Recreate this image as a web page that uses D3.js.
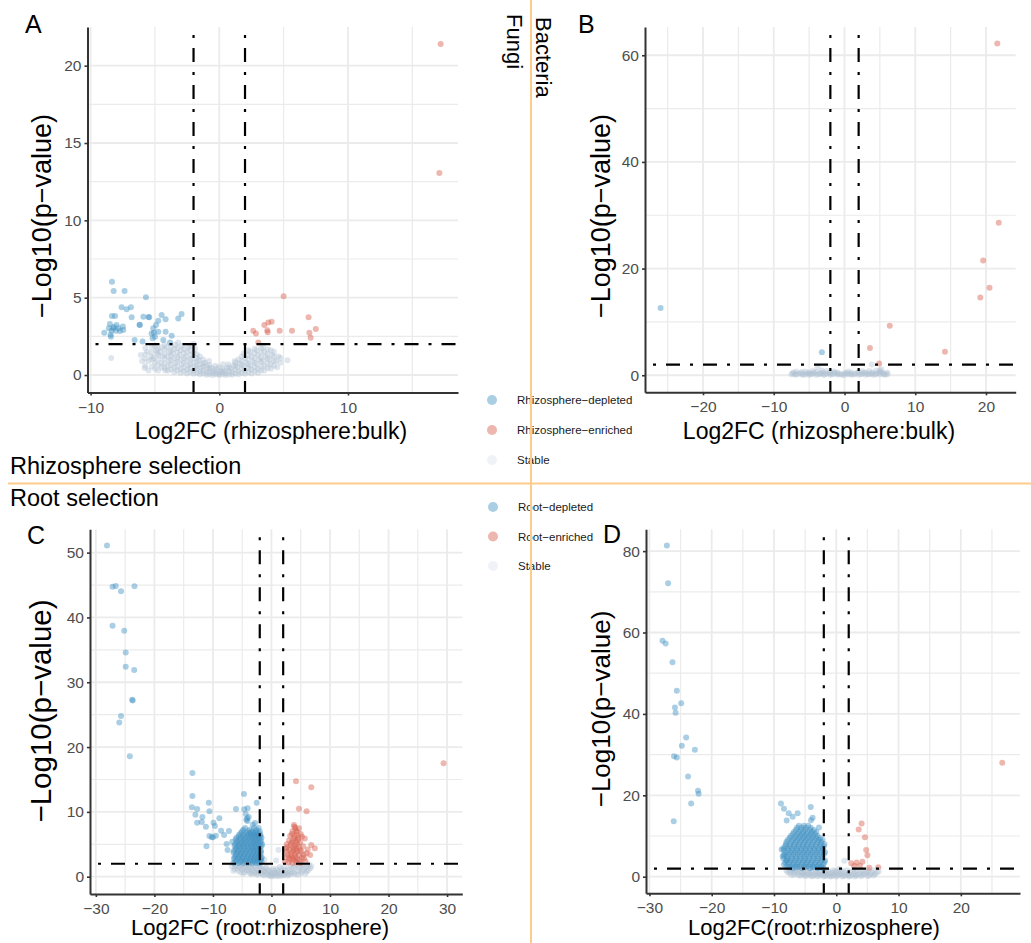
<!DOCTYPE html>
<html><head><meta charset="utf-8">
<script src="https://cdn.jsdelivr.net/npm/d3@7"></script>
<style>body{margin:0;background:#fff}svg{display:block}</style>
</head><body>
<svg id="chart" width="1031" height="943"></svg>
<script>
// ---------------- DATA ----------------
// Panel A (Fungi, rhizosphere:bulk)
const aDepleted = [[-8.34,6.03],[-8.21,5.43],[-7.36,5.43],[-5.7,5.02],[-7.59,4.38],[-7.2,4.25],[-6.87,4.38],[-8.1,3.81],[-8.34,3.81],[-6.81,3.73],[-5.44,3.73],[-4.48,3.88],[-4.17,3.6],[-4.74,3.51],[-2.93,3.94],[-3.19,3.66],[-6.17,3.23],[-8.58,3.02],[-8.24,3.02],[-7.85,3.02],[-7.49,3.13],[-8.37,2.87],[-8.03,2.87],[-7.72,2.84],[-8.94,2.74],[-8.42,2.48],[-6.58,2.26],[-5.96,2.16],[-5.13,3.02],[-5.08,2.74],[-4.74,2.8],[-4.92,3.23],[-4.17,2.8],[-3.7,2.54],[-5.18,2.37],[-4.35,2.26],[-3.83,2.11],[-7.46,2.91],[-7.98,3.23],[-5.9,3.77],[-5.26,2.69],[-5.0,2.48],[-8.5,3.3],[-8.2,3.1],[-6.2,3.25],[-5.5,3.75],[-8.45,2.6]];
const aEnriched = [[17.2,21.4],[17.1,13.06],[5.0,5.1],[6.94,3.73],[7.5,2.97],[7.0,2.74],[7.1,2.41],[5.65,2.87],[4.69,2.87],[4.07,3.45],[3.81,3.4],[3.5,3.23],[3.76,2.76],[3.73,2.9],[2.64,2.87],[2.85,2.69],[3.03,2.11]];
const aStable = [[-8.4,1.1],[-6.0,0.9],[-6.1,1.3],[-5.8,0.45],[-5.5,0.3],[-5.5,0.9],[-5.6,1.5],[-5.3,1.2],[-5.0,0.4],[-5.0,0.8],[-5.1,1.1],[-4.9,1.6],[-5.0,1.9],[-4.8,1.4],[-4.5,0.5],[-4.5,0.8],[-4.4,1.2],[-4.6,1.5],[-4.5,1.8],[-4.2,0.3],[-4.0,0.3],[-4.0,0.6],[-3.9,0.9],[-4.0,1.2],[-3.9,1.5],[-4.1,1.8],[-3.5,0.2],[-3.5,0.5],[-3.4,0.8],[-3.5,1.1],[-3.6,1.4],[-3.5,1.7],[-3.4,1.95],[-3.0,0.15],[-3.0,0.4],[-2.9,0.7],[-3.0,1.0],[-3.1,1.3],[-3.0,1.6],[-2.9,1.9],[-2.5,0.1],[-2.5,0.35],[-2.4,0.6],[-2.5,0.9],[-2.6,1.2],[-2.5,1.5],[-2.4,1.8],[-2.0,0.08],[-2.0,0.3],[-1.9,0.5],[-2.0,0.8],[-2.1,1.1],[-2.0,1.4],[-1.9,1.7],[-2.0,2.0],[-1.5,0.05],[-1.5,0.25],[-1.4,0.45],[-1.5,0.7],[-1.6,0.95],[-1.5,1.2],[-1.0,0.02],[-1.0,0.2],[-0.9,0.4],[-1.0,0.6],[-1.1,0.8],[-0.8,0.9],[-0.5,0.0],[-0.5,0.15],[-0.4,0.3],[-0.6,0.45],[-0.3,0.6],[0.0,0.0],[0.0,0.1],[0.1,0.25],[0.0,0.5],[0.3,0.7],[0.5,0.0],[0.5,0.12],[0.4,0.3],[0.6,0.45],[0.7,0.7],[1.0,0.02],[1.0,0.2],[0.9,0.4],[1.1,0.6],[1.2,0.9],[1.5,0.05],[1.5,0.25],[1.4,0.5],[1.6,0.75],[1.5,1.0],[2.0,0.08],[2.0,0.3],[1.9,0.55],[2.1,0.8],[2.0,1.1],[1.9,1.4],[2.5,0.1],[2.5,0.35],[2.4,0.6],[2.6,0.9],[2.5,1.2],[2.4,1.5],[3.0,0.15],[3.0,0.4],[2.9,0.7],[3.1,1.0],[3.0,1.3],[2.9,1.6],[3.5,0.3],[3.5,0.6],[3.4,0.9],[3.6,1.2],[3.5,1.5],[3.4,1.8],[4.0,0.4],[4.0,0.7],[3.9,1.0],[4.1,1.3],[4.0,1.6],[4.5,0.5],[4.4,0.9],[4.6,1.2],[5.3,0.95],[-3.2,2.1],
[-5.75,0.6],[-5.75,1.05],[-5.75,1.35],[-5.75,1.75],[-5.25,0.55],[-5.25,1.0],[-5.25,1.45],[-5.25,1.8],[-4.75,0.3],[-4.75,0.65],[-4.75,1.0],[-4.75,1.3],[-4.75,1.7],[-4.25,0.45],[-4.25,0.75],[-4.25,1.05],[-4.25,1.35],[-4.25,1.65],[-4.25,1.95],[-3.75,0.35],[-3.75,0.65],[-3.75,0.95],[-3.75,1.25],[-3.75,1.55],[-3.75,1.85],[-3.25,0.3],[-3.25,0.55],[-3.25,0.85],[-3.25,1.15],[-3.25,1.45],[-3.25,1.75],[-2.75,0.25],[-2.75,0.5],[-2.75,0.8],[-2.75,1.1],[-2.75,1.4],[-2.75,1.7],[-2.25,0.2],[-2.25,0.45],[-2.25,0.7],[-2.25,1.0],[-2.25,1.3],[-2.25,1.6],[-2.25,1.9],[-1.75,0.15],[-1.75,0.4],[-1.75,0.6],[-1.75,0.85],[-1.75,1.1],[-1.75,1.35],[-1.25,0.1],[-1.25,0.3],[-1.25,0.55],[-1.25,0.75],[-1.25,1.0],[-0.75,0.05],[-0.75,0.25],[-0.75,0.45],[-0.75,0.65],[-0.25,0.05],[-0.25,0.2],[-0.25,0.4],[0.25,0.05],[0.25,0.2],[0.25,0.4],[0.75,0.05],[0.75,0.25],[0.75,0.5],[1.25,0.1],[1.25,0.35],[1.25,0.6],[1.25,0.8],[1.75,0.15],[1.75,0.4],[1.75,0.65],[1.75,0.9],[1.75,1.2],[2.25,0.2],[2.25,0.45],[2.25,0.7],[2.25,1.0],[2.25,1.3],[2.25,1.6],[2.75,0.25],[2.75,0.5],[2.75,0.8],[2.75,1.1],[2.75,1.4],[2.75,1.7],[3.25,0.3],[3.25,0.55],[3.25,0.85],[3.25,1.15],[3.25,1.45],[3.25,1.75],[3.75,0.45],[3.75,0.75],[3.75,1.05],[3.75,1.35],[3.75,1.65],[4.25,0.6],[4.25,0.9],[4.25,1.2],[4.25,1.5],[4.75,0.8],[4.75,1.1]];

// Panel B (Bacteria, rhizosphere:bulk)
const bDepleted = [[-26.0,12.6],[-3.2,4.3]];
const bEnriched = [[21.6,62.2],[21.8,28.6],[19.6,21.5],[20.5,16.4],[19.2,14.6],[6.4,9.3],[3.6,5.1],[14.2,4.4],[4.9,2.2]];
const bStable = [[-7.5,0.2],[-7.2,0.5],[-7.0,0.1],[-6.5,0.3],[-6.0,0.15],[-6.0,0.6],[-5.5,0.2],[-5.0,0.1],[-5.0,0.5],[-4.5,0.3],[-4.0,0.1],[-4.0,0.6],[-3.8,1.5],[-3.5,0.3],[-3.2,0.9],[-3.0,0.1],[-3.0,0.5],[-2.5,0.3],[-2.5,0.8],[-2.0,0.1],[-2.0,0.5],[-1.5,0.3],[-1.0,0.1],[-1.0,0.5],[-0.5,0.2],[0.0,0.05],[0.0,0.4],[0.5,0.2],[1.0,0.1],[1.0,0.5],[1.5,0.3],[2.0,0.1],[2.0,0.6],[2.5,0.3],[3.0,0.1],[3.0,0.5],[3.5,0.8],[3.5,0.25],[3.85,2.0],[4.0,0.1],[4.0,0.5],[4.5,0.3],[4.5,0.9],[5.0,0.15],[5.0,0.6],[5.5,0.3],[5.8,0.1],[6.0,0.5],[5.2,1.1],
[-7.3,0.35],[-6.8,0.2],[-6.2,0.4],[-5.8,0.1],[-5.2,0.35],[-4.8,0.2],[-4.3,0.45],[-3.7,0.2],[-3.3,0.4],[-2.8,0.15],[-2.2,0.35],[-1.8,0.2],[-1.3,0.45],[-0.8,0.3],[-0.3,0.1],[0.3,0.35],[0.8,0.3],[1.3,0.15],[1.8,0.4],[2.3,0.2],[2.8,0.45],[3.3,0.2],[3.8,0.35],[4.3,0.15],[4.8,0.4],[5.3,0.5],[5.6,0.2],[6.1,0.25],[-6.8,0.7],[-5.5,0.7],[-4.5,0.8],[-1.5,0.7],[0.5,0.7],[2.5,0.75],[5.0,0.9]];

// Panel C (Fungi, root:rhizosphere)
const cDepleted = [[-28.1,51.1],[-27.15,44.75],[-26.6,44.86],[-25.7,44.03],[-23.4,44.8],[-27.15,38.7],[-25.15,37.96],[-24.9,34.6],[-24.9,32.4],[-23.45,31.9],[-23.8,27.3],[-23.7,27.2],[-25.7,24.8],[-26.0,23.8],[-24.2,18.6],
[-13.5,16.0],[-13.5,12.45],[-13.6,10.7],[-12.7,10.45],[-13.0,9.57],[-10.7,11.4],[-10.6,10.1],[-11.8,9.2],[-12.7,8.33],[-11.9,8.44],[-11.2,7.7],[-9.9,8.33],[-9.66,7.82],[-8.9,9.0],[-10.6,6.28],[-10.2,6.08],[-10.0,6.1],[-9.5,6.33],[-11.1,4.7],[-8.6,7.1],[-8.1,6.44],[-7.26,7.05],[-6.7,5.4],[-7.66,5.05],[-7.5,4.12],[-6.07,10.45],[-4.65,10.4],[-4.07,10.55],[-4.7,12.76],[-2.53,11.4],[-4.4,9.68],[-4.14,9.0],[-3.9,9.2],[-4.3,8.8],[-3.2,8.0],[-2.8,8.3],[-4.1,8.6],
[-4.5,7.5],[-3.0,7.5],[-2.2,7.5],
[-5.0,7.0],[-4.0,7.0],[-3.3,7.0],[-2.6,7.0],[-2.0,7.0],
[-5.5,6.5],[-4.7,6.5],[-4.0,6.5],[-3.5,6.5],[-3.0,6.5],[-2.5,6.5],[-1.9,6.5],
[-6.0,6.0],[-5.2,6.0],[-4.5,6.0],[-3.8,6.0],[-3.2,6.0],[-2.7,6.0],[-2.2,6.0],[-1.7,6.0],
[-5.8,5.5],[-5.0,5.5],[-4.3,5.5],[-3.6,5.5],[-3.0,5.5],[-2.4,5.5],[-1.8,5.5],
[-6.2,5.0],[-5.5,5.0],[-4.8,5.0],[-4.1,5.0],[-3.4,5.0],[-2.8,5.0],[-2.2,5.0],[-1.6,5.0],
[-6.0,4.5],[-5.3,4.5],[-4.6,4.5],[-3.9,4.5],[-3.2,4.5],[-2.6,4.5],[-2.0,4.5],
[-6.4,4.0],[-5.7,4.0],[-5.0,4.0],[-4.3,4.0],[-3.6,4.0],[-3.0,4.0],[-2.4,4.0],[-1.8,4.0],
[-6.0,3.5],[-5.3,3.5],[-4.6,3.5],[-3.9,3.5],[-3.2,3.5],[-2.6,3.5],[-2.0,3.5],
[-6.3,3.0],[-5.6,3.0],[-4.9,3.0],[-4.2,3.0],[-3.5,3.0],[-2.9,3.0],[-2.3,3.0],[-1.7,3.0],
[-6.0,2.5],[-5.2,2.5],[-4.5,2.5],[-3.8,2.5],[-3.1,2.5],[-2.5,2.5],[-1.9,2.5],
[-6.5,2.1],[-5.6,2.1],[-4.8,2.1],[-4.0,2.1],[-3.3,2.1],[-2.6,2.1],[-2.0,2.1],
[-4.8,7.25],[-3.7,7.25],[-2.6,7.25],
[-5.2,6.75],[-4.3,6.75],[-3.7,6.75],[-3.2,6.75],[-2.8,6.75],[-2.2,6.75],
[-5.6,6.25],[-4.9,6.25],[-4.2,6.25],[-3.5,6.25],[-2.9,6.25],[-2.4,6.25],[-1.9,6.25],
[-6.1,5.75],[-5.4,5.75],[-4.7,5.75],[-4.0,5.75],[-3.3,5.75],[-2.7,5.75],[-2.1,5.75],
[-5.9,5.25],[-5.2,5.25],[-4.5,5.25],[-3.8,5.25],[-3.1,5.25],[-2.5,5.25],[-1.9,5.25],
[-6.3,4.75],[-5.6,4.75],[-4.9,4.75],[-4.2,4.75],[-3.5,4.75],[-2.9,4.75],[-2.3,4.75],[-1.7,4.75],
[-6.1,4.25],[-5.4,4.25],[-4.7,4.25],[-4.0,4.25],[-3.3,4.25],[-2.7,4.25],[-2.1,4.25],
[-6.5,3.75],[-5.8,3.75],[-5.1,3.75],[-4.4,3.75],[-3.7,3.75],[-3.0,3.75],[-2.4,3.75],[-1.8,3.75],
[-6.1,3.25],[-5.4,3.25],[-4.7,3.25],[-4.0,3.25],[-3.3,3.25],[-2.7,3.25],[-2.1,3.25],
[-6.4,2.75],[-5.7,2.75],[-5.0,2.75],[-4.3,2.75],[-3.6,2.75],[-3.0,2.75],[-2.4,2.75],[-1.8,2.75],
[-6.2,2.3],[-5.3,2.3],[-4.4,2.3],[-3.6,2.3],[-2.9,2.3],[-2.3,2.3],[-1.7,2.3]];
const cEnriched = [[29.4,17.5],[4.19,14.72],[6.8,13.8],[4.7,10.5],[6.0,10.1],[3.85,7.97],[4.7,7.46],[4.1,7.5],[3.6,7.0],[4.4,6.9],[5.2,6.17],[5.7,5.9],[3.2,6.3],[3.9,6.2],[4.6,6.0],[3.0,5.6],[3.6,5.5],[4.2,5.4],[4.9,5.3],[2.6,5.0],[3.3,4.9],[4.0,4.8],[4.7,4.6],[5.4,4.7],[6.8,4.9],[7.4,4.37],[2.5,4.3],[3.1,4.2],[3.8,4.1],[4.4,4.0],[5.1,3.9],[6.2,4.2],[2.6,3.86],[3.3,3.5],[4.0,3.4],[4.7,3.3],[5.5,3.4],[6.0,3.6],[6.6,3.34],[2.4,3.0],[3.0,2.9],[3.7,2.8],[4.4,2.7],[5.56,2.83],[2.3,2.3],[2.9,2.2],[3.6,2.1],[4.3,2.2],[5.0,2.1],[5.8,2.4],
[3.5,6.6],[4.3,6.4],[3.9,5.8],[4.5,5.7],[3.4,5.2],[4.4,5.0],[3.7,4.5],[4.2,4.4],[3.5,3.9],[4.2,3.7],[3.4,3.1],[4.1,3.0],[3.2,2.6],[4.0,2.5],[4.8,2.5],[5.2,3.0],[4.9,4.1],[2.8,3.4],[2.7,4.6],[5.0,6.6],[4.2,7.1],[3.9,7.7]];
const cStable = [[-6.8,1.6],[-6.3,1.2],[-6.0,1.8],[-5.7,0.9],[-5.5,1.5],[-5.0,1.1],[-5.0,1.8],[-4.6,0.7],[-4.5,1.4],[-4.0,1.0],[-4.0,1.8],[-3.6,0.5],[-3.5,1.3],[-3.0,0.8],[-3.0,1.7],[-2.6,0.4],[-2.5,1.2],[-2.2,1.9],[-2.0,0.7],[-1.8,1.4],[-1.5,0.3],[-1.4,1.0],[-1.2,2.6],[-1.0,0.6],[-0.8,1.5],[-0.5,0.2],[-0.4,0.9],[0.0,0.05],[0.0,0.5],[0.2,1.2],[0.5,0.1],[0.6,0.6],[1.0,0.2],[1.0,0.9],[1.2,4.1],[1.4,1.5],[1.5,0.4],[1.8,0.9],[2.0,0.2],[2.2,1.5],[2.5,0.5],[2.8,1.1],[3.0,0.3],[3.2,1.7],[3.5,0.7],[3.8,1.3],[4.0,0.4],[4.3,1.8],[4.5,0.9],[5.0,0.5],[5.0,1.5],[5.5,1.1],[6.0,0.8],[6.0,1.7],[6.6,1.3],[-1.6,2.9],[0.8,2.5],
[-6.5,0.9],[-6.2,1.6],[-5.8,1.3],[-5.3,0.7],[-5.3,1.7],[-4.8,0.5],[-4.8,1.4],[-4.3,1.0],[-4.3,1.9],[-3.8,0.7],[-3.8,1.5],[-3.3,0.4],[-3.3,1.1],[-3.3,1.9],[-2.8,0.6],[-2.8,1.4],[-2.3,0.3],[-2.3,1.0],[-2.0,1.6],[-1.7,0.5],[-1.6,1.2],[-1.2,0.2],[-1.2,0.8],[-1.0,1.3],[-0.7,0.4],[-0.6,1.0],[-0.2,0.2],[-0.2,0.7],[0.3,0.3],[0.4,0.9],[0.8,0.4],[0.8,1.2],[1.2,0.1],[1.3,0.7],[1.7,0.2],[1.7,1.2],[2.2,0.4],[2.4,1.0],[2.7,0.2],[2.9,0.7],[3.3,0.4],[3.4,1.2],[3.9,0.6],[4.0,1.6],[4.5,0.3],[4.7,1.3],[5.2,0.8],[5.3,1.8],[5.8,0.5],[5.8,1.4],[6.3,1.0],[6.8,1.6],[6.4,1.9]];

// Panel D (Bacteria, root:rhizosphere)
const dDepleted = [[-27.2,81.4],[-27.0,72.1],[-27.9,58.0],[-27.4,57.3],[-26.3,52.7],[-25.6,45.7],[-24.9,42.6],[-25.9,41.6],[-25.8,40.3],[-24.1,34.2],[-24.8,32.2],[-22.7,31.2],[-26.05,29.6],[-25.6,29.3],[-23.8,24.6],[-22.2,21.1],[-22.1,20.4],[-23.3,18.0],[-26.1,13.6],
[-8.88,18.0],[-8.4,16.7],[-7.64,15.6],[-7.96,13.8],[-7.0,14.7],[-6.2,15.6],[-4.1,17.1],[-3.8,14.5],[-4.06,13.9],[-2.78,12.1],[-8.77,6.7],[-8.4,5.3],[-7.96,4.0],
[-6.0,12.5],[-5.2,12.5],[-4.5,12.5],
[-6.5,11.5],[-5.7,11.5],[-5.0,11.5],[-4.2,11.5],[-3.6,11.5],
[-7.0,10.5],[-6.2,10.5],[-5.5,10.5],[-4.8,10.5],[-4.1,10.5],[-3.4,10.5],
[-7.5,9.5],[-6.7,9.5],[-6.0,9.5],[-5.3,9.5],[-4.6,9.5],[-3.9,9.5],[-3.2,9.5],[-2.6,9.5],
[-8.0,8.5],[-7.2,8.5],[-6.5,8.5],[-5.8,8.5],[-5.1,8.5],[-4.4,8.5],[-3.7,8.5],[-3.0,8.5],[-2.4,8.5],
[-8.2,7.5],[-7.5,7.5],[-6.8,7.5],[-6.1,7.5],[-5.4,7.5],[-4.7,7.5],[-4.0,7.5],[-3.3,7.5],[-2.6,7.5],[-2.0,7.5],
[-8.4,6.5],[-7.7,6.5],[-7.0,6.5],[-6.3,6.5],[-5.6,6.5],[-4.9,6.5],[-4.2,6.5],[-3.5,6.5],[-2.8,6.5],[-2.1,6.5],
[-8.3,5.5],[-7.6,5.5],[-6.9,5.5],[-6.2,5.5],[-5.5,5.5],[-4.8,5.5],[-4.1,5.5],[-3.4,5.5],[-2.7,5.5],[-2.0,5.5],
[-8.5,4.5],[-7.8,4.5],[-7.1,4.5],[-6.4,4.5],[-5.7,4.5],[-5.0,4.5],[-4.3,4.5],[-3.6,4.5],[-2.9,4.5],[-2.2,4.5],
[-8.2,3.5],[-7.5,3.5],[-6.8,3.5],[-6.1,3.5],[-5.4,3.5],[-4.7,3.5],[-4.0,3.5],[-3.3,3.5],[-2.6,3.5],[-1.9,3.5],
[-8.0,2.5],[-7.3,2.5],[-6.6,2.5],[-5.9,2.5],[-5.2,2.5],[-4.5,2.5],[-3.8,2.5],[-3.1,2.5],[-2.4,2.5],
[-7.0,2.1],[-5.5,2.1],[-4.2,2.1],[-3.0,2.1],[-2.1,2.1],
[-6.3,12.0],[-5.6,12.0],[-4.9,12.0],[-4.1,12.0],
[-6.8,11.0],[-6.0,11.0],[-5.3,11.0],[-4.6,11.0],[-3.9,11.0],[-3.2,11.0],
[-7.3,10.0],[-6.5,10.0],[-5.8,10.0],[-5.1,10.0],[-4.4,10.0],[-3.7,10.0],[-3.0,10.0],
[-7.8,9.0],[-7.0,9.0],[-6.3,9.0],[-5.6,9.0],[-4.9,9.0],[-4.2,9.0],[-3.5,9.0],[-2.8,9.0],[-2.2,9.0],
[-8.1,8.0],[-7.4,8.0],[-6.7,8.0],[-6.0,8.0],[-5.3,8.0],[-4.6,8.0],[-3.9,8.0],[-3.2,8.0],[-2.5,8.0],[-1.9,8.0],
[-8.5,7.0],[-7.8,7.0],[-7.1,7.0],[-6.4,7.0],[-5.7,7.0],[-5.0,7.0],[-4.3,7.0],[-3.6,7.0],[-2.9,7.0],[-2.2,7.0],
[-8.0,6.0],[-7.3,6.0],[-6.6,6.0],[-5.9,6.0],[-5.2,6.0],[-4.5,6.0],[-3.8,6.0],[-3.1,6.0],[-2.4,6.0],[-1.8,6.0],
[-8.6,5.0],[-7.9,5.0],[-7.2,5.0],[-6.5,5.0],[-5.8,5.0],[-5.1,5.0],[-4.4,5.0],[-3.7,5.0],[-3.0,5.0],[-2.3,5.0],
[-8.0,4.0],[-7.3,4.0],[-6.6,4.0],[-5.9,4.0],[-5.2,4.0],[-4.5,4.0],[-3.8,4.0],[-3.1,4.0],[-2.4,4.0],[-1.8,4.0],
[-8.4,3.0],[-7.7,3.0],[-7.0,3.0],[-6.3,3.0],[-5.6,3.0],[-4.9,3.0],[-4.2,3.0],[-3.5,3.0],[-2.8,3.0],[-2.1,3.0],
[-7.6,2.3],[-6.3,2.3],[-4.9,2.3],[-3.6,2.3],[-2.5,2.3]];
const dEnriched = [[26.65,28.0],[4.07,13.1],[3.6,11.6],[4.6,9.7],[4.8,6.56],[5.0,5.3],[4.2,3.7],[3.27,3.5],[2.4,3.3],[6.75,2.3],[2.9,2.6],[3.8,2.7],[5.3,2.2]];
const dStable = [[-8.0,1.5],[-7.5,0.9],[-7.0,1.6],[-6.8,0.5],[-6.5,1.2],[-6.0,0.3],[-6.0,1.8],[-5.5,0.8],[-5.0,0.2],[-5.0,1.4],[-4.5,0.7],[-4.0,0.1],[-4.0,1.2],[-3.5,0.5],[-3.0,0.1],[-3.0,1.0],[-2.5,0.4],[-2.0,0.05],[-2.0,0.9],[-1.5,1.6],[-1.5,0.3],[-1.0,0.05],[-1.0,0.8],[-0.5,0.3],[0.0,0.05],[0.0,1.2],[0.5,0.5],[1.0,0.05],[1.0,1.4],[1.3,3.9],[1.5,0.4],[2.0,0.05],[2.0,0.9],[2.5,0.4],[3.0,0.05],[3.0,1.2],[3.5,0.5],[4.0,0.1],[4.0,1.5],[4.5,0.6],[5.0,0.2],[5.0,1.2],[5.5,0.6],[6.0,0.3],[6.0,1.6],[6.5,1.0],[-1.8,1.9],[0.5,1.9],[2.8,1.8],[-0.5,1.6],
[-7.8,1.1],[-7.3,1.4],[-7.2,0.4],[-6.7,0.9],[-6.3,1.6],[-6.2,0.7],[-5.8,1.2],[-5.7,0.3],[-5.3,1.0],[-5.2,0.5],[-4.8,1.6],[-4.7,0.3],[-4.3,0.9],[-4.2,0.5],[-3.8,1.5],[-3.7,0.2],[-3.3,0.7],[-3.2,1.3],[-2.8,0.3],[-2.7,1.1],[-2.3,0.6],[-2.2,1.5],[-1.8,0.2],[-1.7,1.0],[-1.3,0.5],[-1.2,1.3],[-0.8,0.1],[-0.7,1.0],[-0.3,0.6],[-0.2,1.4],[0.2,0.3],[0.3,0.9],[0.8,0.6],[0.7,1.5],[1.2,0.2],[1.3,1.0],[1.8,0.5],[1.7,1.6],[2.2,0.2],[2.3,1.2],[2.8,0.6],[3.2,0.3],[3.3,1.5],[3.8,0.8],[4.2,0.4],[4.3,1.2],[4.8,0.9],[5.3,0.3],[5.2,1.6],[5.8,1.0],[6.2,0.6],[6.8,1.3]];

// Ticks
const aXTicks = [-10, 0, 10], aXMinor = [-5, 5, 15];
const aYTicks = [0, 5, 10, 15, 20], aYMinor = [2.5, 7.5, 12.5, 17.5];
const bXTicks = [-20, -10, 0, 10, 20], bXMinor = [-25, -15, -5, 5, 15];
const bYTicks = [0, 20, 40, 60], bYMinor = [10, 30, 50];
const cXTicks = [-30, -20, -10, 0, 10, 20, 30], cXMinor = [-25, -15, -5, 5, 15, 25];
const cYTicks = [0, 10, 20, 30, 40, 50], cYMinor = [5, 15, 25, 35, 45];
const dXTicks = [-30, -20, -10, 0, 10, 20], dXMinor = [-25, -15, -5, 5, 15, 25];
const dYTicks = [0, 20, 40, 60, 80], dYMinor = [10, 30, 50, 70];

// Thresholds
const foldThresholds = [-2, 2];
const pThreshold = 2;

// Texts
const yTitle = "\u2212Log10(p\u2212value)";
const xTitles = ["Log2FC (rhizosphere:bulk)", "Log2FC (rhizosphere:bulk)", "Log2FC (root:rhizosphere)", "Log2FC(root:rhizosphere)"];
const panelLetters = ["A", "B", "C", "D"];
const legendRhizosphere = ["Rhizosphere\u2212depleted", "Rhizosphere\u2212enriched", "Stable"];
const legendRoot = ["Root\u2212depleted", "Root\u2212enriched", "Stable"];
const rowLabels = ["Rhizosphere selection", "Root selection"];
const colLabels = ["Fungi", "Bacteria"];

// ---------------- STYLE ----------------
const FONT = "'Liberation Sans', Arial, Helvetica, sans-serif";
const COL = {dep: "#4393C3", enr: "#D6604D", sta: "#AFC0D1"};
const ALPHA = 0.45;
const GRID = "#EBEBEB";
const ORANGE = "#FDCB8A";

const svg = d3.select("#chart");

const panels = [
  {letter: panelLetters[0], xTitle: xTitles[0], dep: aDepleted, enr: aEnriched, sta: aStable,
   xT: aXTicks, xM: aXMinor, yT: aYTicks, yM: aYMinor,
   xDomain: [-10.24, 18.55], yDomain: [-1.13, 22.5], left: 87.5, right: 458, top: 27, bottom: 392.5,
   letterPos: [25, 33], xTitlePos: [271, 439], xTitleSize: 23, yTitlePos: [51, 216], yTitleSize: 27},
  {letter: panelLetters[1], xTitle: xTitles[1], dep: bDepleted, enr: bEnriched, sta: bStable,
   xT: bXTicks, xM: bXMinor, yT: bYTicks, yM: bYMinor,
   xDomain: [-28.2, 24.2], yDomain: [-3.2, 65.3], left: 645, right: 1015.7, top: 27, bottom: 392.3,
   letterPos: [578, 32.5], xTitlePos: [819, 439], xTitleSize: 23, yTitlePos: [610, 216], yTitleSize: 27},
  {letter: panelLetters[2], xTitle: xTitles[2], dep: cDepleted, enr: cEnriched, sta: cStable,
   xT: cXTicks, xM: cXMinor, yT: cYTicks, yM: cYMinor,
   xDomain: [-31.0, 32.6], yDomain: [-2.67, 53.6], left: 90, right: 462.3, top: 529.3, bottom: 894,
   letterPos: [27, 544], xTitlePos: [260, 935], xTitleSize: 22, yTitlePos: [51, 711], yTitleSize: 29.5},
  {letter: panelLetters[3], xTitle: xTitles[3], dep: dDepleted, enr: dEnriched, sta: dStable,
   xT: dXTicks, xM: dXMinor, yT: dYTicks, yM: dYMinor,
   xDomain: [-30.55, 29.5], yDomain: [-4.08, 85.36], left: 646, right: 1020, top: 529.3, bottom: 893.3,
   letterPos: [603, 543], xTitlePos: [814, 935], xTitleSize: 22, yTitlePos: [610, 709], yTitleSize: 26}
];

function drawPanel(p) {
  const g = svg.append("g");
  const x = d3.scaleLinear().domain(p.xDomain).range([p.left, p.right]);
  const y = d3.scaleLinear().domain(p.yDomain).range([p.bottom, p.top]);

  const grid = g.append("g");
  grid.selectAll(".vm").data(p.xM).join("line")
    .attr("x1", d => x(d)).attr("x2", d => x(d)).attr("y1", p.top).attr("y2", p.bottom)
    .attr("stroke", GRID).attr("stroke-width", 1.2);
  grid.selectAll(".hm").data(p.yM).join("line")
    .attr("y1", d => y(d)).attr("y2", d => y(d)).attr("x1", p.left).attr("x2", p.right)
    .attr("stroke", GRID).attr("stroke-width", 1.2);
  grid.selectAll(".vM").data(p.xT).join("line")
    .attr("x1", d => x(d)).attr("x2", d => x(d)).attr("y1", p.top).attr("y2", p.bottom)
    .attr("stroke", GRID).attr("stroke-width", 1.8);
  grid.selectAll(".hM").data(p.yT).join("line")
    .attr("y1", d => y(d)).attr("y2", d => y(d)).attr("x1", p.left).attr("x2", p.right)
    .attr("stroke", GRID).attr("stroke-width", 1.8);

  const layers = [[p.sta, COL.sta, 0.4], [p.dep, COL.dep, ALPHA], [p.enr, COL.enr, ALPHA]];
  layers.forEach(([arr, c, a]) => {
    g.append("g").selectAll("circle").data(arr).join("circle")
      .attr("cx", d => x(d[0])).attr("cy", d => y(d[1])).attr("r", 3)
      .attr("fill", c).attr("fill-opacity", a);
  });

  const th = g.append("g").attr("stroke", "#000").attr("stroke-width", 2.2)
    .attr("stroke-dasharray", "3,10,14,10");
  th.selectAll(".tv").data(foldThresholds).join("line")
    .attr("x1", d => x(d)).attr("x2", d => x(d)).attr("y1", p.top + 8).attr("y2", p.bottom);
  th.append("line").attr("x1", p.left + 8).attr("x2", p.right)
    .attr("y1", y(pThreshold)).attr("y2", y(pThreshold));

  const yAx = g.append("g").attr("transform", `translate(${p.left},0)`)
    .call(d3.axisLeft(y).tickValues(p.yT).tickSize(3).tickSizeOuter(0).tickPadding(3));
  const xAx = g.append("g").attr("transform", `translate(0,${p.bottom})`)
    .call(d3.axisBottom(x).tickValues(p.xT).tickSize(3).tickSizeOuter(0).tickPadding(6));
  [yAx, xAx].forEach(a => {
    a.attr("font-family", FONT).attr("font-size", 15.5);
    a.select(".domain").attr("stroke", "#333").attr("stroke-width", 2);
    a.selectAll(".tick line").attr("stroke", "#333").attr("stroke-width", 1.6);
    a.selectAll(".tick text").attr("fill", "#4D4D4D");
  });

  g.append("text").attr("x", p.xTitlePos[0]).attr("y", p.xTitlePos[1])
    .attr("text-anchor", "middle").attr("font-family", FONT).attr("font-size", p.xTitleSize)
    .attr("fill", "#000").text(p.xTitle);
  g.append("text").attr("transform", `translate(${p.yTitlePos[0]},${p.yTitlePos[1]}) rotate(-90)`)
    .attr("text-anchor", "middle").attr("font-family", FONT).attr("font-size", p.yTitleSize)
    .attr("fill", "#000").text(yTitle);
  g.append("text").attr("x", p.letterPos[0]).attr("y", p.letterPos[1])
    .attr("font-family", FONT).attr("font-size", 25).attr("fill", "#000").text(p.letter);
}

panels.forEach(drawPanel);

// Legends
function drawLegend(labels, x0, y0, step) {
  const lg = svg.append("g");
  const cols = [COL.dep, COL.enr, COL.sta];
  const alphas = [ALPHA, ALPHA, 0.2];
  labels.forEach((lab, i) => {
    lg.append("circle").attr("cx", x0).attr("cy", y0 + i * step).attr("r", 5)
      .attr("fill", cols[i]).attr("fill-opacity", alphas[i]);
    lg.append("text").attr("x", x0 + 25).attr("y", y0 + i * step).attr("dy", "0.35em")
      .attr("font-family", FONT).attr("font-size", 11.5).attr("fill", "#1A1A1A").text(lab);
  });
}
drawLegend(legendRhizosphere, 492, 400, 30);
drawLegend(legendRoot, 493, 507, 29.5);

// Row labels
svg.append("text").attr("x", 10).attr("y", 474).attr("font-family", FONT).attr("font-size", 23.5)
  .attr("fill", "#000").text(rowLabels[0]);
svg.append("text").attr("x", 10).attr("y", 506).attr("font-family", FONT).attr("font-size", 23.5)
  .attr("fill", "#000").text(rowLabels[1]);

// Column labels (rotated)
svg.append("text").attr("transform", "translate(507,14) rotate(90)").attr("font-family", FONT)
  .attr("font-size", 22).attr("fill", "#000").text(colLabels[0]);
svg.append("text").attr("transform", "translate(536,17) rotate(90)").attr("font-family", FONT)
  .attr("font-size", 22).attr("fill", "#000").text(colLabels[1]);

// Orange separators
svg.append("line").attr("x1", 531).attr("x2", 531).attr("y1", 0).attr("y2", 943)
  .attr("stroke", ORANGE).attr("stroke-width", 2);
svg.append("line").attr("x1", 8).attr("x2", 1031).attr("y1", 483.5).attr("y2", 483.5)
  .attr("stroke", ORANGE).attr("stroke-width", 2);
</script>
</body></html>
